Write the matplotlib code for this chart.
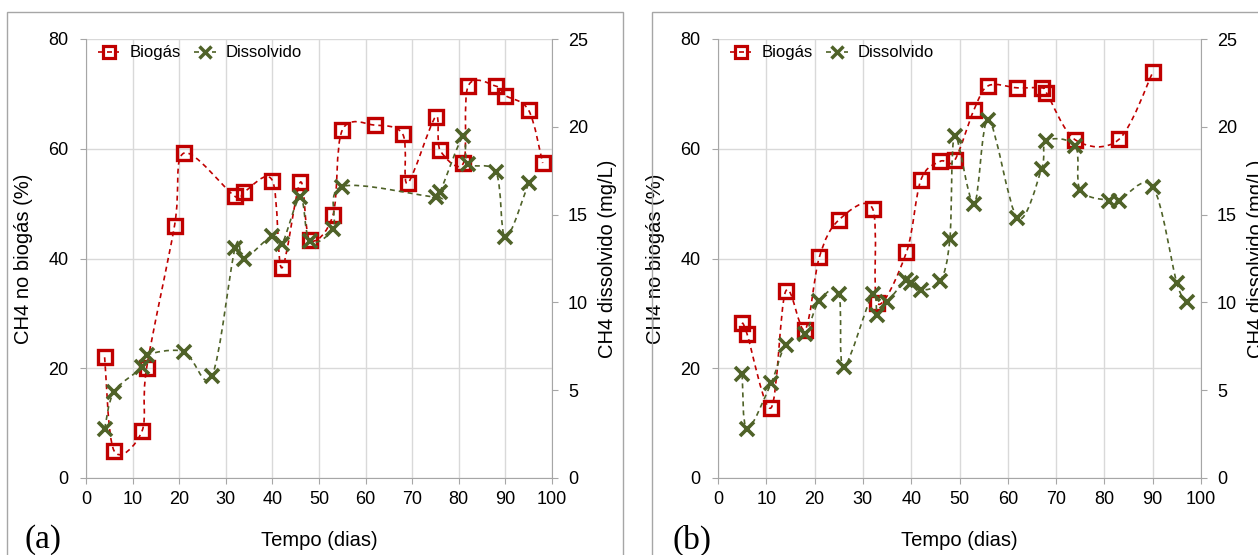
import numpy as np
import matplotlib
matplotlib.use("Agg")
import matplotlib.pyplot as plt
from matplotlib.path import Path
from matplotlib.patches import PathPatch, Rectangle
from matplotlib.lines import Line2D

plt.rcParams['font.family'] = ['Liberation Sans', 'DejaVu Sans']

# reactor (a)
dias_bio_a = [4, 6, 12, 13, 19, 21, 32, 34, 40, 42, 46, 48, 53, 55, 62, 68, 69,
              75, 76, 81, 82, 88, 90, 95, 98]
biogas_a = [22, 5, 8.5, 20, 46, 59.2, 51.3, 52.2, 54.2, 38.3, 53.9, 43.4, 47.9,
            63.4, 64.3, 62.6, 53.7, 65.8, 59.7, 57.4, 71.4, 71.4, 69.7, 67, 57.4]
dias_dis_a = [4, 6, 12, 13, 21, 27, 32, 34, 40, 42, 46, 48, 53, 55, 75, 76, 81,
              82, 88, 90, 95]
dissolvido_a = [2.8, 4.9, 6.3, 7.0, 7.2, 5.8, 13.1, 12.5, 13.8, 13.3, 16.0, 13.5,
                14.2, 16.6, 16.0, 16.3, 19.5, 17.9, 17.4, 13.7, 16.8]

# reactor (b)
dias_bio_b = [5, 6, 11, 14, 18, 21, 25, 32, 33, 39, 42, 46, 49, 53, 56, 62, 67,
              68, 74, 83, 90]
biogas_b = [28.3, 26.3, 12.8, 34, 27, 40.3, 47, 49.1, 31.8, 41.1, 54.3, 57.7,
            57.9, 67.1, 71.5, 71.1, 71.1, 70.2, 61.6, 61.7, 73.9]
dias_dis_b = [5, 6, 11, 14, 18, 21, 25, 26, 32, 33, 35, 39, 40, 42, 46, 48, 49,
              53, 56, 62, 67, 68, 74, 75, 81, 83, 90, 95, 97]
dissolvido_b = [5.9, 2.8, 5.4, 7.6, 8.2, 10.1, 10.5, 6.3, 10.5, 9.3, 10.0, 11.3,
                11.1, 10.7, 11.2, 13.6, 19.5, 15.6, 20.4, 14.8, 17.6, 19.2, 18.9,
                16.4, 15.8, 15.8, 16.6, 11.1, 10.0]

RED = '#c00000'
GREEN = '#4f6228'
AXIS = '#a6a6a6'
GRID = '#d9d9d9'
W, H = 1258, 555


def smooth_path(x, y):
    # Bezier curve through the points (Catmull-Rom style control points)
    pts = np.column_stack([x, y]).astype(float)
    p = np.vstack([pts[0], pts, pts[-1]])
    verts = [pts[0]]
    codes = [Path.MOVETO]
    for i in range(1, len(p) - 2):
        c1 = p[i] + (p[i + 1] - p[i - 1]) / 6
        c2 = p[i + 1] - (p[i + 2] - p[i]) / 6
        verts += [c1, c2, p[i + 1]]
        codes += [Path.CURVE4] * 3
    return Path(verts, codes)


def draw_series(ax, x, y, color, marker, ms, mew):
    patch = PathPatch(smooth_path(x, y), fill=False, edgecolor=color, lw=1.2,
                      linestyle=(0, (3, 2.4)), transform=ax.transData)
    ax.add_patch(patch)
    ax.plot(x, y, ls='none', marker=marker, ms=ms, mfc='none', mec=color, mew=mew)


def panel(rect, xb, yb, xd, yd, letter, letter_x):
    ax = fig.add_axes(rect)
    ax2 = ax.twinx()
    draw_series(ax, xb, yb, RED, 's', 9.5, 2.4)
    draw_series(ax2, xd, yd, GREEN, 'x', 9.5, 2.6)

    ax.set_xlim(0, 100)
    ax.set_ylim(0, 80)
    ax2.set_ylim(0, 25)
    ax.set_xticks(range(0, 101, 10))
    ax.set_yticks(range(0, 81, 20))
    ax2.set_yticks(range(0, 26, 5))
    ax.grid(True, color=GRID, lw=1)
    ax.set_axisbelow(True)

    for s in ['top', 'right']:
        ax.spines[s].set_visible(False)
    for s in ['top', 'left', 'bottom']:
        ax2.spines[s].set_visible(False)
    for s in ['left', 'bottom']:
        ax.spines[s].set_color(AXIS)
    ax2.spines['right'].set_color(AXIS)

    ax.tick_params(axis='x', length=4, color=AXIS, labelsize=13, pad=5)
    ax.tick_params(axis='y', length=4.5, color=AXIS, labelsize=13, pad=8)
    ax2.tick_params(axis='y', length=4.5, color=AXIS, labelsize=13, pad=7)

    ax.set_xlabel('Tempo (dias)', fontsize=14.5, labelpad=17)
    ax.set_ylabel('CH4 no biogás (%)', fontsize=14.5, labelpad=11)
    ax2.set_ylabel('CH4 dissolvido (mg/L)', fontsize=14.5, labelpad=7)

    handles = [
        Line2D([], [], color=RED, lw=1.2, ls=(0, (3, 2.4)), marker='s', ms=9,
               mfc='none', mew=2.3),
        Line2D([], [], color=GREEN, lw=1.2, ls=(0, (3, 2.4)), marker='x', ms=9,
               mew=2.5),
    ]
    ax2.legend(handles, ['Biogás', 'Dissolvido'], loc='upper left',
               bbox_to_anchor=(0.0, 1.012), ncol=2, frameon=False, fontsize=12,
               handlelength=1.3, handletextpad=0.6, columnspacing=0.8,
               borderaxespad=0.3)

    fig.text(letter_x / W, 1 - 540 / H, letter, fontsize=24, va='center',
             family='Liberation Serif')


fig = plt.figure(figsize=(W / 100, H / 100), dpi=100)

# panel frames
fig.add_artist(Rectangle((7 / W, -0.05), (623 - 7) / W, 1.05 - 12 / H,
                         transform=fig.transFigure, fill=False, ec=AXIS, lw=1))
fig.add_artist(Rectangle((652 / W, -0.05), 1.0, 1.05 - 12 / H,
                         transform=fig.transFigure, fill=False, ec=AXIS, lw=1))

bottom = 1 - 478 / H
height = 439 / H
panel([86 / W, bottom, 466 / W, height], dias_bio_a, biogas_a,
      dias_dis_a, dissolvido_a, '(a)', 24)
panel([718 / W, bottom, 483 / W, height], dias_bio_b, biogas_b,
      dias_dis_b, dissolvido_b, '(b)', 672)

fig.savefig('out.png', dpi=100)
